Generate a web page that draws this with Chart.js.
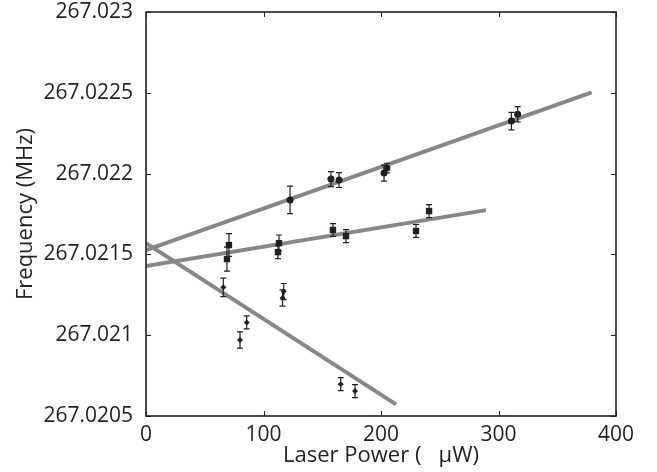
<!DOCTYPE html>
<html>
<head>
<meta charset="utf-8">
<script src="https://cdn.jsdelivr.net/npm/chart.js@4"></script>
<style>
  html, body { margin: 0; padding: 0; background: #fff; }
  #wrap { width: 657px; height: 472px; }
</style>
</head>
<body>
<div id="wrap"><canvas id="chart"></canvas></div>
<script>
// filled circles (upper series)
const circleX = [122.6, 157.4, 164.3, 202.6, 205, 311, 316.3];
const circleY = [267.021837, 267.021966, 267.02196, 267.022003, 267.022034, 267.022325, 267.022367];
const circleErr = [0.000085, 0.000046, 0.000046, 0.00005, 0.00003, 0.000054, 0.000047];

// squares (middle series)
const squareX = [68.9, 70.6, 112.3, 113.2, 159.1, 170.2, 229.8, 240.9];
const squareY = [267.021471, 267.021558, 267.021514, 267.02157, 267.021651, 267.021613, 267.021645, 267.021768];
const squareErr = [0.000074, 0.00007, 0.00004, 0.00005, 0.00004, 0.00004, 0.00004, 0.00004];

// small diamonds (lower series)
const diamondX = [65.8, 80, 85.7, 116.2, 117.2, 165.7, 177.9];
const diamondY = [267.021296, 267.02097, 267.021079, 267.02123, 267.02127, 267.020697, 267.020654];
const diamondErr = [0.000057, 0.00005, 0.00004, 0.00005, 0.00005, 0.00004, 0.00004];

// linear fits (end points)
const fitCircleX = [0, 379.3];
const fitCircleY = [267.021527, 267.022503];
const fitSquareX = [0, 289.4];
const fitSquareY = [267.021428, 267.021774];
const fitDiamondX = [0, 212.8];
const fitDiamondY = [267.02157, 267.020572];

const xTicks = [0, 100, 200, 300, 400];
const yTicks = [267.0205, 267.021, 267.0215, 267.022, 267.0225, 267.023];
const yTickLabels = ['267.0205', '267.021', '267.0215', '267.022', '267.0225', '267.023'];

const INK = '#231f20';
const FIT = '#878787';
const FONT = 'Open Sans';

function pts(xs, ys) {
    return xs.map((x, i) => ({ x: x, y: ys[i] }));
}

const errorSets = [
    { x: circleX, y: circleY, e: circleErr },
    { x: squareX, y: squareY, e: squareErr },
    { x: diamondX, y: diamondY, e: diamondErr }
];

const frameAndBars = {
    id: 'frameAndBars',
    afterDatasetsDraw(chart) {
        const ctx = chart.ctx;
        const xs = chart.scales.x, ys = chart.scales.y;
        ctx.save();
        ctx.strokeStyle = INK;
        ctx.lineWidth = 1.2;
        errorSets.forEach(s => {
            s.x.forEach((xv, i) => {
                const px = xs.getPixelForValue(xv);
                const top = ys.getPixelForValue(s.y[i] + s.e[i]);
                const bot = ys.getPixelForValue(s.y[i] - s.e[i]);
                ctx.beginPath();
                ctx.moveTo(px, top); ctx.lineTo(px, bot);
                ctx.moveTo(px - 3, top); ctx.lineTo(px + 3, top);
                ctx.moveTo(px - 3, bot); ctx.lineTo(px + 3, bot);
                ctx.stroke();
            });
        });
        ctx.restore();
    },
    afterDraw(chart) {
        const ctx = chart.ctx;
        const a = chart.chartArea;
        const xs = chart.scales.x, ys = chart.scales.y;
        ctx.save();
        ctx.strokeStyle = INK;
        ctx.lineWidth = 1.6;
        ctx.strokeRect(a.left, a.top, a.right - a.left, a.bottom - a.top);
        ctx.lineWidth = 1;
        ctx.beginPath();
        xTicks.forEach(v => {
            const px = Math.round(xs.getPixelForValue(v)) + 0.5;
            ctx.moveTo(px, a.bottom); ctx.lineTo(px, a.bottom - 5);
            ctx.moveTo(px, a.top); ctx.lineTo(px, a.top + 5);
        });
        yTicks.forEach(v => {
            const py = Math.round(ys.getPixelForValue(v)) + 0.5;
            ctx.moveTo(a.left, py); ctx.lineTo(a.left + 5, py);
            ctx.moveTo(a.right, py); ctx.lineTo(a.right - 5, py);
        });
        ctx.stroke();
        ctx.restore();
    }
};

const fitStyle = {
    type: 'line',
    borderColor: FIT,
    borderWidth: 4,
    pointRadius: 0,
    showLine: true,
    fill: false
};

new Chart(document.getElementById('chart'), {
    type: 'scatter',
    data: {
        datasets: [
            {
                label: 'circles',
                data: pts(circleX, circleY),
                pointStyle: 'circle',
                pointRadius: 3.5,
                backgroundColor: INK,
                borderColor: INK,
                borderWidth: 0
            },
            {
                label: 'squares',
                data: pts(squareX, squareY),
                pointStyle: 'rect',
                pointRadius: 4.5,
                backgroundColor: INK,
                borderColor: INK,
                borderWidth: 0
            },
            {
                label: 'diamonds',
                data: pts(diamondX, diamondY),
                pointStyle: 'rectRot',
                pointRadius: 3,
                backgroundColor: INK,
                borderColor: INK,
                borderWidth: 0
            },
            Object.assign({ label: 'fit circles', data: pts(fitCircleX, fitCircleY) }, fitStyle),
            Object.assign({ label: 'fit squares', data: pts(fitSquareX, fitSquareY) }, fitStyle),
            Object.assign({ label: 'fit diamonds', data: pts(fitDiamondX, fitDiamondY) }, fitStyle)
        ]
    },
    options: {
        responsive: true,
        maintainAspectRatio: false,
        animation: false,
        layout: { padding: { top: 12, right: 41, left: 0, bottom: 0 } },
        plugins: {
            legend: { display: false },
            tooltip: { enabled: false }
        },
        scales: {
            x: {
                type: 'linear',
                min: 0,
                max: 400,
                afterBuildTicks: s => { s.ticks = xTicks.map(v => ({ value: v })); },
                afterFit: s => { s.height = 56; s.paddingLeft = 0; s.paddingRight = 0; },
                grid: { display: false, drawTicks: false },
                border: { display: false },
                ticks: {
                    color: INK,
                    padding: 6,
                    maxRotation: 0,
                    font: { family: FONT, size: 21 }
                },
                title: {
                    display: true,
                    text: 'Laser Power (   \u03bcW)',
                    color: INK,
                    padding: { top: 0, bottom: 3 },
                    font: { family: FONT, size: 22 }
                }
            },
            y: {
                type: 'linear',
                min: 267.0205,
                max: 267.023,
                afterBuildTicks: s => { s.ticks = yTicks.map(v => ({ value: v })); },
                afterFit: s => { s.width = 146; s.paddingTop = 0; s.paddingBottom = 0; },
                grid: { display: false, drawTicks: false },
                border: { display: false },
                ticks: {
                    color: INK,
                    padding: 13,
                    callback: (v, i) => yTickLabels[i],
                    font: { family: FONT, size: 21 }
                },
                title: {
                    display: true,
                    text: 'Frequency (MHz)',
                    color: INK,
                    padding: { top: 13, bottom: 0 },
                    font: { family: FONT, size: 22 }
                }
            }
        }
    },
    plugins: [frameAndBars]
});
</script>
</body>
</html>
